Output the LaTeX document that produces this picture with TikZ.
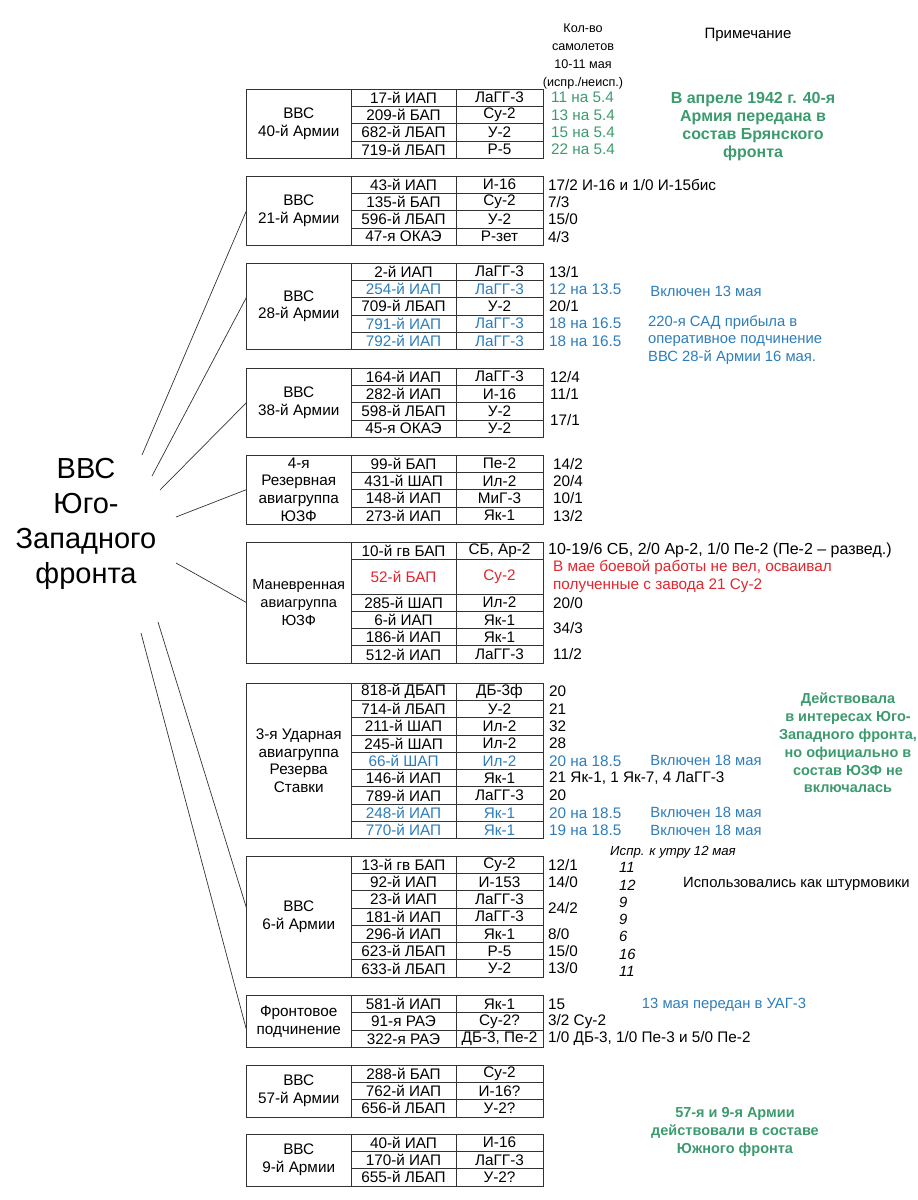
\documentclass[tikz,border=0pt]{standalone}
\usepackage{fontspec}
\setmainfont{Liberation Sans}
\usetikzlibrary{positioning}
\definecolor{sgreen}{RGB}{60,155,110}
\definecolor{sblue}{RGB}{45,125,185}
\definecolor{sred}{RGB}{224,38,46}
\newcommand\rowh{17.3}
\newcommand\tabfont{\fontsize{15.3}{17.6}\selectfont}
\newcommand\notefont{\fontsize{14.8}{17.6}\selectfont}
\newcommand\hdfont{\fontsize{12.6}{18}\selectfont}
\tikzset{cell/.style={draw=black!80,line width=0.7pt,inner sep=0pt,outer sep=0pt,minimum height=\rowh,font=\tabfont,align=center},
  name cell/.style={cell,minimum width=104.5pt},
  unit cell/.style={cell,minimum width=105pt},
  type cell/.style={cell,minimum width=87pt},
  count/.style={anchor=west,inner sep=0pt,font=\tabfont},
  note/.style={inner sep=0pt,font=\notefont,align=center},
  green note/.style={note,text=sgreen,font=\fontsize{14.5}{17.8}\selectfont\bfseries},
  link/.style={draw=black!80,line width=0.7pt},
}

\begin{document}
\begin{tikzpicture}[x=1pt,y=-1pt]
  \useasboundingbox (0,0) rectangle (918,1200);

  \node[font=\fontsize{29}{35}\selectfont,align=center] (vvs) at (86,524) {ВВС\\Юго-\\Западного\\фронта};
  \node[note,font=\hdfont] (head) at (583,56) {Кол-во\\самолетов\\10-11 мая\\(испр./неисп.)};
  \node[note,font=\fontsize{15}{18}\selectfont] (prim) at (748,35) {Примечание};

  % 40-я армия
  \node[name cell,minimum height=4*\rowh] (n40) at (298.75,{89+2*\rowh}) {ВВС\\40-й Армии};
  \foreach \un/\ty/\cn [count=\i] in {17-й ИАП/ЛаГГ-3/11 на 5.4,209-й БАП/Су-2/13 на 5.4,682-й ЛБАП/У-2/15 на 5.4,719-й ЛБАП/Р-5/22 на 5.4}{
    \node[unit cell] (u40-\i) at (403.5,{89+(\i-0.5)*\rowh}) {\un};
    \node[type cell,right=0pt of u40-\i] (t40-\i) {\ty};
    \node[count,text=sgreen,right=8pt of t40-\i] (c40-\i) {\cn};
  }
  \node[green note,font=\fontsize{16}{18}\selectfont\bfseries] (g40) at (753,127) {В апреле 1942 г. 40-я\\Армия передана в\\состав Брянского\\фронта};

  % 21-я армия
  \node[name cell,minimum height=4*\rowh] (n21) at (298.75,{176+2*\rowh}) {ВВС\\21-й Армии};
  \foreach \un/\ty/\cn [count=\i] in {43-й ИАП/И-16/{17/2 И-16 и 1/0 И-15бис},135-й БАП/Су-2/{7/3},596-й ЛБАП/У-2/{15/0},47-я ОКАЭ/Р-зет/{4/3}}{
    \node[unit cell] (u21-\i) at (403.5,{176+(\i-0.5)*\rowh}) {\un};
    \node[type cell,right=0pt of u21-\i] (t21-\i) {\ty};
    \node[count,right=5pt of t21-\i] (c21-\i) {\cn};
  }

  % 28-я армия
  \node[name cell,minimum height=5*\rowh] (n28) at (298.75,{263+2.5*\rowh}) {ВВС\\28-й Армии};
  \foreach \un/\ty/\cn/\cl [count=\i] in {2-й ИАП/ЛаГГ-3/{13/1}/black,254-й ИАП/ЛаГГ-3/12 на 13.5/sblue,709-й ЛБАП/У-2/{20/1}/black,791-й ИАП/ЛаГГ-3/18 на 16.5/sblue,792-й ИАП/ЛаГГ-3/18 на 16.5/sblue}{
    \node[unit cell,text=\cl] (u28-\i) at (403.5,{263+(\i-0.5)*\rowh}) {\un};
    \node[type cell,text=\cl,right=0pt of u28-\i] (t28-\i) {\ty};
    \node[count,text=\cl,right=6pt of t28-\i] (c28-\i) {\cn};
  }
  \node[note,text=sblue] (v13) at (706,291) {Включен 13 мая};
  \node[note,text=sblue,align=left,anchor=west] (sad) at (648,340) {220-я САД прибыла в\\оперативное подчинение\\ВВС 28-й Армии 16 мая.};

  % 38-я армия
  \node[name cell,minimum height=4*\rowh] (n38) at (298.75,{368+2*\rowh}) {ВВС\\38-й Армии};
  \foreach \un/\ty/\cn [count=\i] in {164-й ИАП/ЛаГГ-3/{12/4},282-й ИАП/И-16/{11/1},598-й ЛБАП/У-2/{},45-я ОКАЭ/У-2/{}}{
    \node[unit cell] (u38-\i) at (403.5,{368+(\i-0.5)*\rowh}) {\un};
    \node[type cell,right=0pt of u38-\i] (t38-\i) {\ty};
    \node[count,right=7pt of t38-\i] (c38-\i) {\cn};
  }
  \node[count] (c38-34) at (550,{368+3*\rowh}) {17/1};

  % 4-я резервная авиагруппа
  \node[name cell,minimum height=4*\rowh] (n4r) at (298.75,{455+2*\rowh}) {4-я\\Резервная\\авиагруппа\\ЮЗФ};
  \foreach \un/\ty/\cn [count=\i] in {99-й БАП/Пе-2/{14/2},431-й ШАП/Ил-2/{20/4},148-й ИАП/МиГ-3/{10/1},273-й ИАП/Як-1/{13/2}}{
    \node[unit cell] (u4r-\i) at (403.5,{455+(\i-0.5)*\rowh}) {\un};
    \node[type cell,right=0pt of u4r-\i] (t4r-\i) {\ty};
    \node[count,right=10pt of t4r-\i] (c4r-\i) {\cn};
  }

  % маневренная авиагруппа
  \node[name cell,minimum height=7*\rowh,font=\fontsize{14.6}{17.6}\selectfont] (nman) at (298.75,{542+3.5*\rowh}) {Маневренная\\авиагруппа\\ЮЗФ};
  \foreach \un/\ty/\y/\h/\cl [count=\i] in {10-й гв БАП/{СБ, Ар-2}/0.5/1/black,52-й БАП/Су-2/2/2/sred,285-й ШАП/Ил-2/3.5/1/black,6-й ИАП/Як-1/4.5/1/black,186-й ИАП/Як-1/5.5/1/black,512-й ИАП/ЛаГГ-3/6.5/1/black}{
    \node[unit cell,minimum height=\h*\rowh,text=\cl] (uman-\i) at (403.5,{542+\y*\rowh}) {\un};
    \node[type cell,minimum height=\h*\rowh,text=\cl,right=0pt of uman-\i] (tman-\i) {\ty};
  }
  \node[count,font=\fontsize{16}{17.6}\selectfont,right=5pt of tman-1] (cman-1) {10-19/6 СБ, 2/0 Ар-2, 1/0 Пе-2 (Пе-2 – развед.)};
  \node[count,text=sred,align=left,right=10pt of tman-2] (cman-2) {В мае боевой работы не вел, осваивал\\полученные с завода 21 Су-2};
  \node[count,right=10pt of tman-3] (cman-3) {20/0};
  \node[count] (cman-45) at (553,{542+5*\rowh}) {34/3};
  \node[count,right=10pt of tman-6] (cman-6) {11/2};

  % 3-я ударная авиагруппа
  \node[name cell,minimum height=9*\rowh] (n3u) at (298.75,{683+4.5*\rowh}) {3-я Ударная\\авиагруппа\\Резерва\\Ставки};
  \foreach \un/\ty/\cn/\cl [count=\i] in {818-й ДБАП/ДБ-3ф/20/black,714-й ЛБАП/У-2/21/black,211-й ШАП/Ил-2/32/black,245-й ШАП/Ил-2/28/black,66-й ШАП/Ил-2/20 на 18.5/sblue,146-й ИАП/Як-1/{21 Як-1, 1 Як-7, 4 ЛаГГ-3}/black,789-й ИАП/ЛаГГ-3/20/black,248-й ИАП/Як-1/20 на 18.5/sblue,770-й ИАП/Як-1/19 на 18.5/sblue}{
    \node[unit cell,text=\cl] (u3u-\i) at (403.5,{683+(\i-0.5)*\rowh}) {\un};
    \node[type cell,text=\cl,right=0pt of u3u-\i] (t3u-\i) {\ty};
    \node[count,text=\cl,right=6pt of t3u-\i] (c3u-\i) {\cn};
  }
  \foreach \r in {5,8,9}
    \node[note,text=sblue] (v18-\r) at (706,{683+(\r-0.5)*\rowh}) {Включен 18 мая};
  \node[green note] (g3u) at (848,743) {Действовала\\в интересах Юго-\\Западного фронта,\\но официально в\\состав ЮЗФ не\\включалась};

  % 6-я армия
  \node[note,font=\fontsize{13.2}{16}\selectfont\itshape] (ispr) at (673,852) {Испр. к утру 12 мая};
  \node[name cell,minimum height=7*\rowh] (n6) at (298.75,{856+3.5*\rowh}) {ВВС\\6-й Армии};
  \foreach \un/\ty/\cn/\m [count=\i] in {13-й гв БАП/Су-2/{12/1}/11,92-й ИАП/И-153/{14/0}/12,23-й ИАП/ЛаГГ-3/{}/9,181-й ИАП/ЛаГГ-3/{}/9,296-й ИАП/Як-1/{8/0}/6,623-й ЛБАП/Р-5/{15/0}/16,633-й ЛБАП/У-2/{13/0}/11}{
    \node[unit cell] (u6-\i) at (403.5,{856+(\i-0.5)*\rowh}) {\un};
    \node[type cell,right=0pt of u6-\i] (t6-\i) {\ty};
    \node[count,right=5pt of t6-\i] (c6-\i) {\cn};
    \node[count,font=\notefont\itshape] (m6-\i) at (619,{856+(\i-0.5)*\rowh+3}) {\m};
  }
  \node[count] (c6-34) at (548,{856+3*\rowh}) {24/2};
  \node[count,font=\notefont] (shturm) at (683,884) {Использовались как штурмовики};

  % фронтовое подчинение
  \node[name cell,minimum height=3*\rowh] (nfront) at (298.75,{995.5+1.5*\rowh}) {Фронтовое\\подчинение};
  \foreach \un/\ty/\cn [count=\i] in {581-й ИАП/Як-1/15,91-я РАЭ/Су-2?/{3/2 Су-2},322-я РАЭ/{ДБ-3, Пе-2}/{1/0 ДБ-3, 1/0 Пе-3 и 5/0 Пе-2}}{
    \node[unit cell] (uf-\i) at (403.5,{995.5+(\i-0.5)*\rowh}) {\un};
    \node[type cell,right=0pt of uf-\i] (tf-\i) {\ty};
    \node[count,right=5pt of tf-\i] (cf-\i) {\cn};
  }
  \node[note,text=sblue] (uag) at (724,1005) {13 мая передан в УАГ-3};

  % 57-я и 9-я армии
  \node[name cell,minimum height=3*\rowh] (n57) at (298.75,{1065+1.5*\rowh}) {ВВС\\57-й Армии};
  \foreach \un/\ty [count=\i] in {288-й БАП/Су-2,762-й ИАП/И-16?,656-й ЛБАП/У-2?}{
    \node[unit cell] (u57-\i) at (403.5,{1065+(\i-0.5)*\rowh}) {\un};
    \node[type cell,right=0pt of u57-\i] (t57-\i) {\ty};
  }
  \node[name cell,minimum height=3*\rowh] (n9) at (298.75,{1134+1.5*\rowh}) {ВВС\\9-й Армии};
  \foreach \un/\ty [count=\i] in {40-й ИАП/И-16,170-й ИАП/ЛаГГ-3,655-й ЛБАП/У-2?}{
    \node[unit cell] (u9-\i) at (403.5,{1134+(\i-0.5)*\rowh}) {\un};
    \node[type cell,right=0pt of u9-\i] (t9-\i) {\ty};
  }
  \node[green note] (g57) at (735,1132) {57-я и 9-я Армии\\действовали в составе\\Южного фронта};

  % связи
  \coordinate (s1) at (142,455);
  \coordinate (s2) at (152,476);
  \coordinate (s3) at (160,490);
  \coordinate (s4) at (176,517);
  \coordinate (s5) at (176,563);
  \coordinate (s6) at (158,622);
  \coordinate (s7) at (141,633);
  \path[link]
    (s1) edge (n21.west)
    (s2) edge ([yshift=9pt]n28.west)
    (s3) edge (n38.west)
    (s4) edge (n4r.west)
    (s5) edge (nman.west)
    (s6) edge ([yshift=8.5pt]n6.west)
    (s7) edge ([yshift=-8.5pt]nfront.west);
\end{tikzpicture}
\end{document}
